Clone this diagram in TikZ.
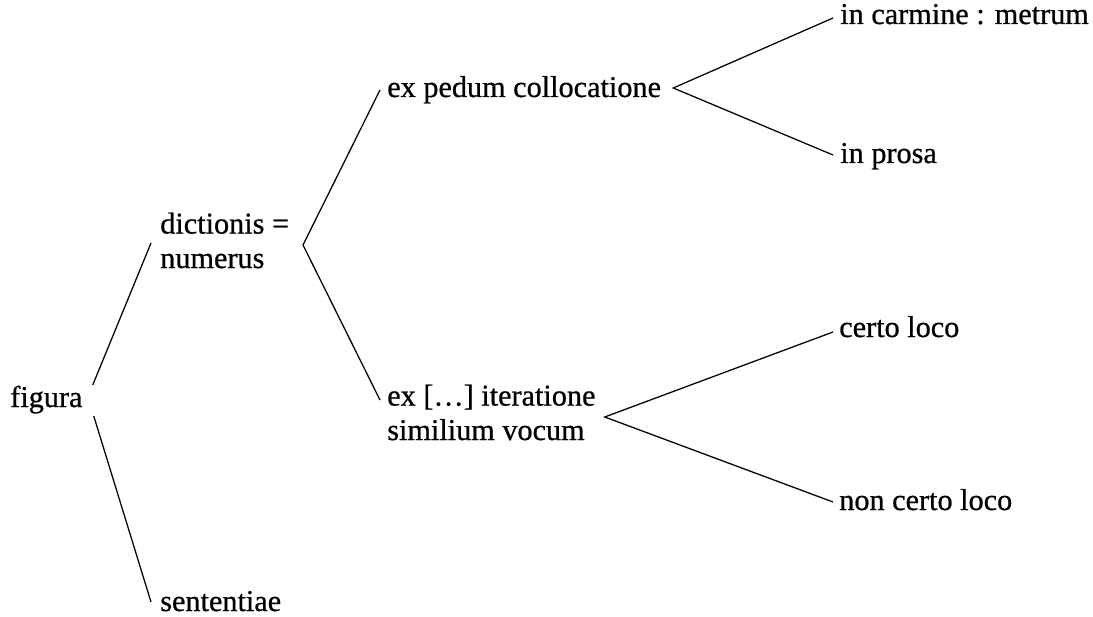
\documentclass[tikz,border=0pt]{standalone}
\usepackage{fontspec}
\setmainfont{Liberation Serif}[FakeBold=0.7]
\usetikzlibrary{positioning}
\tikzset{
  word/.style={font=\fontsize{21.5}{24.5}\selectfont,text=black,anchor=base west,inner sep=0pt,align=left},
  branch/.style={draw=black,line width=0.9pt,line join=miter}
}
\begin{document}
\begin{tikzpicture}[x=0.025cm,y=-0.025cm]
\path[use as bounding box] (0,0) rectangle (1093,617);
% first level
\node[word] (figura) at (10,407) {figura};
\node[word] (dictionis) at (160,268) {dictionis =\\numerus};
\node[word] (sententiae) at (160,611) {sententiae};
\draw[branch] ([shift={(10,-22)}]figura.base east) -- ([shift={(-9,-25)}]dictionis.base west);
\draw[branch] ([shift={(11,9)}]figura.base east) -- ([shift={(-9,-9)}]sententiae.base west);
% numerus
\node[word] (pedum) at (387,97) {ex pedum collocatione};
\node[word] (iteratio) at (387,440) {ex [\dots] iteratione\\similium vocum};
\coordinate (dsplit) at (303,245);
\draw[branch] ([shift={(-7,-7)}]pedum.base west) -- (dsplit) -- ([shift={(-7,-40)}]iteratio.base west);
% pedum collocatio
\node[word] (carmen) at (840,24) {in carmine : metrum};
\node[word] (prosa) at (840,163) {in prosa};
\coordinate (psplit) at ([shift={(12,-9)}]pedum.base east);
\draw[branch] ([shift={(-7,-6)}]carmen.base west) -- (psplit) -- ([shift={(-7,-8)}]prosa.base west);
% iteratio
\node[word] (certo) at (839,337) {certo loco};
\node[word] (noncerto) at (839,510) {non certo loco};
\coordinate (isplit) at ([shift={(9,-23)}]iteratio.base east);
\draw[branch] ([shift={(-6,-5)}]certo.base west) -- (isplit) -- ([shift={(-6,-8)}]noncerto.base west);
\end{tikzpicture}
\end{document}
